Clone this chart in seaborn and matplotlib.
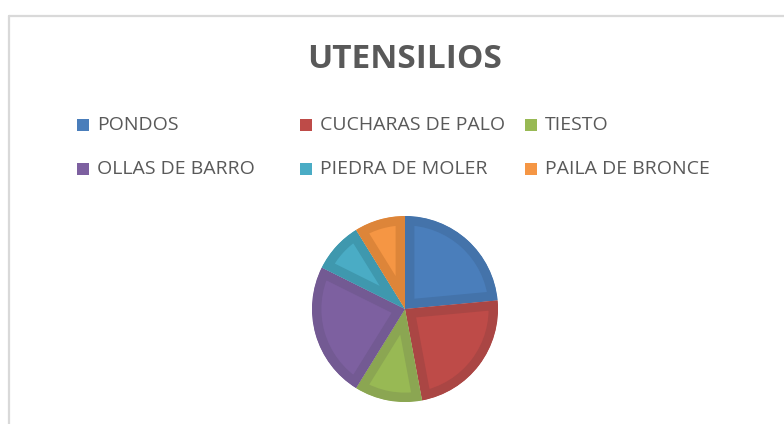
import matplotlib
matplotlib.use("Agg")
import matplotlib.pyplot as plt
import seaborn as sns
from matplotlib.patches import Rectangle
from matplotlib.lines import Line2D

# ---- data ----
categories = ["PONDOS", "CUCHARAS DE PALO", "TIESTO",
              "OLLAS DE BARRO", "PIEDRA DE MOLER", "PAILA DE BRONCE"]
values = [8, 8, 4, 8, 3, 3]
title = "UTENSILIOS"

# ---- style ----
inner_colors = ["#4A7EBB", "#BE4B48", "#98B954", "#7D60A0", "#4AACC5", "#F59644"]
band_colors = ["#4473AA", "#AA4644", "#8BA652", "#735A93", "#3F98AE", "#DD8539"]
text_color = "#595959"

sns.set_style("white")
plt.rcParams["font.family"] = ["Open Sans", "DejaVu Sans"]

W, H = 784, 424
fig = plt.figure(figsize=(W / 100, H / 100), dpi=100)
fig.patch.set_facecolor("white")

def fx(x):
    return x / W

def fy(y):
    return 1 - y / H

# chart frame (top and left edges visible)
fig.add_artist(Line2D([fx(8.5), fx(790)], [fy(15.5), fy(15.5)], color="#D9D9D9", lw=1.6))
fig.add_artist(Line2D([fx(8.5), fx(8.5)], [fy(15.5), fy(430)], color="#D9D9D9", lw=1.6))

# title
fig.text(fx(405), fy(60), title, ha="center", va="center", fontsize=24,
         fontweight="bold", color=text_color)

# legend (row-wise, 3 columns)
col_x = [77, 300, 525]
row_y = [125, 169]
for i, lab in enumerate(categories):
    r, c = divmod(i, 3)
    x, y = col_x[c], row_y[r]
    fig.add_artist(Rectangle((fx(x), fy(y + 6)), 12 / W, 12 / H,
                             facecolor=inner_colors[i], edgecolor="none",
                             transform=fig.transFigure))
    fig.text(fx(x + 20), fy(y), lab, ha="left", va="center", fontsize=14,
             color=text_color)

# pie
cx, cy, r = 405, 309, 93
ax = fig.add_axes([fx(cx - r), fy(cy + r), 2 * r / W, 2 * r / H])
wedges, _ = ax.pie(values, colors=inner_colors, startangle=90, counterclock=False,
                   radius=1.0)
for w, bc in zip(wedges, band_colors):
    w.set_edgecolor(bc)
    w.set_linewidth(13.5)
    w.set_joinstyle("miter")
    w.set_clip_on(True)
    w.set_clip_path(w)
ax.set_xlim(-1, 1)
ax.set_ylim(-1, 1)
ax.set_aspect("equal")
ax.axis("off")

fig.savefig("out.png", dpi=100, facecolor="white")
